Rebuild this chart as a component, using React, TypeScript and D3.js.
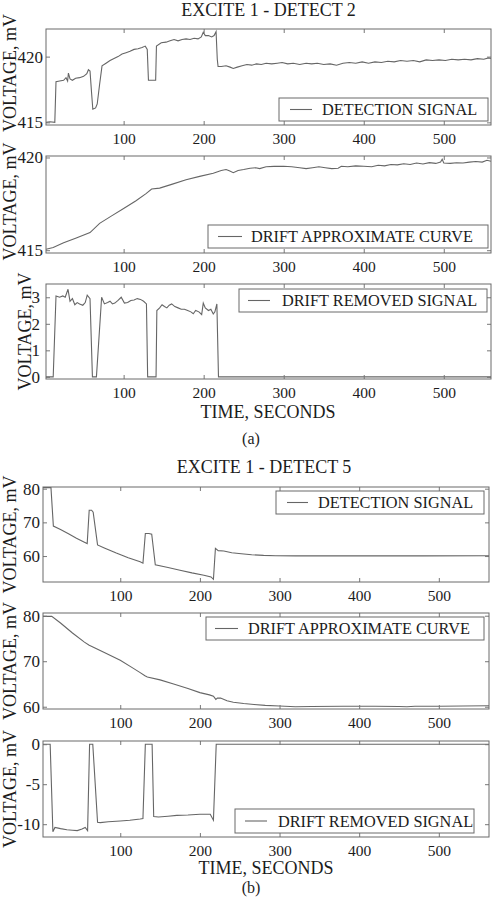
import { useRef, useEffect } from 'react'
import * as d3 from 'd3'

type Pt = [number, number]

// excite 1 - detect 2 (time s, mV)
const detect2: Pt[] = [
  [3, 415.0], [8, 415.05], [14, 415.0], [15.5, 418.1], [20, 418.15], [25, 418.2], [28, 418.4], [30, 418.15],
  [31, 418.75], [33, 418.3], [36, 418.2], [40, 418.35], [45, 418.4], [50, 418.5], [54, 418.7], [56, 419.0],
  [58, 418.9], [60, 417.2], [61.5, 416.0], [65, 416.1], [67, 416.4], [70, 417.9], [73, 419.3], [78, 419.5],
  [83, 419.7], [88, 419.85], [93, 420.0], [98, 420.2], [103, 420.3], [108, 420.4], [113, 420.55], [118, 420.6],
  [123, 420.7], [127, 420.8], [129.5, 420.55], [131, 418.2], [135, 418.2], [140, 418.2], [141, 420.8],
  [147, 421.05], [153, 421.1], [158, 421.2], [163, 421.3], [168, 421.2], [173, 421.3], [178, 421.35],
  [183, 421.3], [188, 421.4], [193, 421.35], [197, 421.5], [199.5, 421.85], [202, 421.6], [206, 421.6],
  [210, 421.5], [213, 421.6], [215.5, 421.9], [217, 419.8], [218, 419.25], [222, 419.25], [228, 419.3],
  [233, 419.2], [237, 419.1], [242, 419.2], [248, 419.3], [254, 419.4], [260, 419.35], [266, 419.45],
  [272, 419.4], [278, 419.5], [285, 419.45], [292, 419.5], [298, 419.55], [305, 419.45], [312, 419.5],
  [320, 419.4], [328, 419.5], [335, 419.45], [342, 419.5], [350, 419.4], [358, 419.45], [366, 419.35],
  [374, 419.5], [382, 419.55], [390, 419.5], [398, 419.6], [406, 419.5], [414, 419.6], [422, 419.55],
  [430, 419.65], [438, 419.6], [446, 419.7], [454, 419.65], [462, 419.7], [470, 419.6], [478, 419.75],
  [486, 419.7], [494, 419.75], [502, 419.7], [510, 419.8], [518, 419.75], [526, 419.8], [534, 419.75],
  [542, 419.85], [550, 419.8], [556, 419.9], [559, 419.85],
]

const drift2: Pt[] = [
  [3, 415.05], [12, 415.15], [25, 415.4], [40, 415.65], [58, 415.95], [70, 416.45], [85, 416.85], [100, 417.25],
  [115, 417.65], [128, 418.05], [135, 418.3], [145, 418.35], [160, 418.55], [178, 418.8], [195, 418.98],
  [212, 419.15], [222, 419.3], [228, 419.35], [232, 419.28], [237, 419.18], [243, 419.3], [250, 419.35],
  [258, 419.42], [265, 419.45], [270, 419.4], [278, 419.5], [288, 419.52], [300, 419.53], [310, 419.5],
  [320, 419.45], [328, 419.4], [336, 419.45], [344, 419.5], [352, 419.45], [360, 419.4], [368, 419.42],
  [372, 419.53], [380, 419.5], [390, 419.55], [400, 419.53], [410, 419.5], [418, 419.58], [426, 419.55],
  [434, 419.62], [442, 419.6], [450, 419.66], [458, 419.62], [466, 419.7], [474, 419.65], [482, 419.72],
  [490, 419.68], [496, 419.75], [498, 419.9], [500, 419.7], [508, 419.68], [516, 419.72], [524, 419.7],
  [532, 419.75], [540, 419.78], [548, 419.75], [554, 419.85], [559, 419.8],
]

const removed2: Pt[] = [
  [3, 0], [12, 0], [15.5, 3.05], [20, 3.0], [24, 3.05], [27, 3.0], [30.5, 3.3], [33, 2.85], [36, 2.95],
  [39, 2.72], [42, 2.8], [45, 2.75], [49, 2.7], [52, 2.8], [54.5, 3.08], [58, 2.95], [61, 0], [66, 0],
  [72.5, 3.0], [76, 2.75], [80, 2.8], [83, 2.85], [86, 2.75], [89, 2.78], [93, 2.88], [97, 3.0], [101, 2.78],
  [105, 2.8], [109, 2.88], [113, 2.9], [117, 2.95], [121, 2.92], [125, 2.85], [128.5, 2.75], [130, 0],
  [140.5, 0], [141.5, 2.5], [145, 2.6], [148, 2.72], [151, 2.65], [154, 2.6], [157, 2.7], [160, 2.75],
  [164, 2.65], [168, 2.6], [172, 2.55], [176, 2.55], [180, 2.5], [184, 2.45], [187, 2.38], [190, 2.5],
  [194, 2.45], [197.5, 2.35], [199.5, 2.78], [202, 2.6], [206, 2.5], [209, 2.55], [212, 2.37], [214, 2.45],
  [216.5, 2.75], [218.5, 0], [559, 0],
]

// excite 1 - detect 5
const detect5: Pt[] = [
  [3, 80.3], [13, 80.3], [16, 68.9], [25, 67.9], [35, 66.6], [45, 65.3], [55, 64.1], [58.5, 63.7], [61, 73.6],
  [64, 73.6], [66, 73.0], [71.5, 63.3], [80, 62.4], [95, 60.9], [110, 59.5], [125, 58.3], [128.5, 57.9],
  [131.5, 66.7], [136, 66.7], [139.5, 66.5], [144, 57.4], [160, 56.6], [175, 55.8], [190, 55.0], [205, 54.3],
  [214, 53.8], [217, 53.1], [219.5, 62.3], [223, 61.6], [230, 61.5], [240, 61.0], [252, 60.7], [265, 60.4],
  [280, 60.2], [295, 60.1], [320, 60.05], [400, 60.05], [480, 60.05], [563, 60.1],
]

const drift5: Pt[] = [
  [3, 79.85], [14, 79.85], [25, 78.4], [40, 76.2], [55, 74.2], [61, 73.5], [65, 73.2], [80, 71.9], [100, 70.2],
  [115, 68.6], [125, 67.5], [131, 66.8], [134, 66.55], [150, 65.9], [167, 65.0], [185, 64.0], [200, 63.1],
  [212, 62.6], [217, 62.3], [220, 61.6], [222, 61.9], [226, 61.9], [234, 61.3], [242, 61.0], [255, 60.7],
  [268, 60.5], [282, 60.3], [300, 60.15], [320, 60.0], [340, 60.05], [380, 60.1], [420, 60.1], [450, 60.05],
  [460, 60.0], [470, 60.1], [500, 60.1], [530, 60.15], [563, 60.2],
]

const removed5: Pt[] = [
  [3, 0], [12, 0], [15.4, -10.95], [18, -10.4], [25, -10.55], [33, -10.7], [40, -10.75], [46, -10.8],
  [52, -10.6], [56, -10.4], [59, -10.8], [61.5, 0], [65.5, 0], [71.5, -9.75], [75, -9.8], [85, -9.7],
  [100, -9.6], [112, -9.5], [125, -9.35], [128.5, -9.3], [131.5, 0], [140, 0], [142, -9.05], [148, -9.1],
  [160, -9.0], [171, -8.9], [185, -8.85], [200, -8.75], [213, -8.75], [217, -9.5], [220.5, 0], [563, 0],
]

const xTicks = [100, 200, 300, 400, 500]
const yTicksA = [415, 420]
const yTicksA3 = [0, 1, 2, 3]
const yTicksB = [60, 70, 80]
const yTicksB3 = [-10, -5, 0]

const titles = ['EXCITE 1 - DETECT 2', 'EXCITE 1 - DETECT 5']
const legendNames = ['DETECTION SIGNAL', 'DRIFT APPROXIMATE CURVE', 'DRIFT REMOVED SIGNAL']

const FONT = 'Liberation Serif, Times New Roman, serif'
const INK = '#1c1c1c'
const LINE = '#666'

const panels = [
  { data: detect2, name: legendNames[0], xDom: [3, 559], yDom: [414.8, 422.1], yTicks: yTicksA, l: 46, r: 491, t: 29, b: 125, labelX: 16, labelShift: -4, pad: 3, leg: { x: 279, y: 98, w: 209, h: 23, l1: 290, l2: 312, tx: 322 } },
  { data: drift2, name: legendNames[1], xDom: [3, 559], yDom: [414.85, 420.08], yTicks: yTicksA, l: 46, r: 491, t: 156, b: 253, labelX: 16, labelShift: -3, pad: 3, leg: { x: 208, y: 225, w: 280, h: 23, l1: 218, l2: 242, tx: 251 } },
  { data: removed2, name: legendNames[2], xDom: [3, 559], yDom: [-0.08, 3.5], yTicks: yTicksA3, l: 46, r: 491, t: 284, b: 379, labelX: 31, labelShift: 0, pad: 6, leg: { x: 239, y: 289, w: 248, h: 23, l1: 248, l2: 270, tx: 282 } },
  { data: detect5, name: legendNames[0], xDom: [3, 563], yDom: [52.3, 80.5], yTicks: yTicksB, l: 43, r: 489, t: 487, b: 582, labelX: 16, labelShift: 0, pad: 3, leg: { x: 276, y: 491, w: 208, h: 23, l1: 287, l2: 308, tx: 318 } },
  { data: drift5, name: legendNames[1], xDom: [3, 563], yDom: [59.5, 80.6], yTicks: yTicksB, l: 43, r: 489, t: 613, b: 709, labelX: 16, labelShift: 0, pad: 3, leg: { x: 206, y: 617, w: 278, h: 23, l1: 215, l2: 238, tx: 248 } },
  { data: removed5, name: legendNames[2], xDom: [3, 563], yDom: [-11.6, 0.4], yTicks: yTicksB3, l: 43, r: 489, t: 741, b: 837, labelX: 16, labelShift: 0, pad: 3, leg: { x: 235, y: 809, w: 239, h: 24, l1: 245, l2: 267, tx: 278 } },
]

export default function App() {
  const svgRef = useRef<SVGSVGElement>(null)

  useEffect(() => {
    if (!svgRef.current) return
    const svg = d3.select(svgRef.current)
    svg.selectAll('*').remove()

    const fmt = (d: any) => String(d)

    panels.forEach((p, i) => {
      const x = d3.scaleLinear().domain(p.xDom).range([p.l, p.r])
      const y = d3.scaleLinear().domain(p.yDom).range([p.b, p.t])
      const g = svg.append('g')

      const clipId = `clip-${i}`
      svg.append('clipPath').attr('id', clipId)
        .append('rect').attr('x', p.l).attr('y', p.t).attr('width', p.r - p.l).attr('height', p.b - p.t)

      // signal
      const line = d3.line<Pt>().x(d => x(d[0])).y(d => y(d[1]))
      g.append('path')
        .datum(p.data)
        .attr('d', line)
        .attr('fill', 'none')
        .attr('stroke', LINE)
        .attr('stroke-width', 1.1)
        .attr('clip-path', `url(#${clipId})`)

      // axes, ticks pointing inward on all four sides
      const styleAxis = (sel: any, size: number) => {
        sel.attr('font-family', FONT)
        sel.select('.domain').remove()
        sel.selectAll('.tick line').attr('stroke', '#777')
        sel.selectAll('text').attr('fill', INK).attr('font-family', FONT).attr('font-size', `${size}px`)
      }
      g.append('g').attr('transform', `translate(0,${p.b})`)
        .call(d3.axisBottom(x).tickValues(xTicks).tickSizeInner(-4).tickSizeOuter(0).tickPadding(8).tickFormat(fmt))
        .call((s: any) => styleAxis(s, 15.5))
      g.append('g').attr('transform', `translate(0,${p.t})`)
        .call(d3.axisTop(x).tickValues(xTicks).tickSizeInner(-4).tickSizeOuter(0).tickFormat(() => ''))
        .call((s: any) => styleAxis(s, 15.5))
      g.append('g').attr('transform', `translate(${p.l},0)`)
        .call(d3.axisLeft(y).tickValues(p.yTicks).tickSizeInner(-4).tickSizeOuter(0).tickPadding(p.pad).tickFormat(fmt))
        .call((s: any) => styleAxis(s, 17))
      g.append('g').attr('transform', `translate(${p.r},0)`)
        .call(d3.axisRight(y).tickValues(p.yTicks).tickSizeInner(-4).tickSizeOuter(0).tickFormat(() => ''))
        .call((s: any) => styleAxis(s, 17))

      g.append('rect')
        .attr('x', p.l).attr('y', p.t).attr('width', p.r - p.l).attr('height', p.b - p.t)
        .attr('fill', 'none').attr('stroke', '#6a6a6a').attr('stroke-width', 1)

      // legend
      const lg = p.leg
      g.append('rect')
        .attr('x', lg.x).attr('y', lg.y).attr('width', lg.w).attr('height', lg.h)
        .attr('fill', '#fff').attr('stroke', '#6a6a6a').attr('stroke-width', 1)
      g.append('line')
        .attr('x1', lg.l1).attr('x2', lg.l2).attr('y1', lg.y + lg.h / 2).attr('y2', lg.y + lg.h / 2)
        .attr('stroke', LINE).attr('stroke-width', 1.1)
      g.append('text')
        .attr('x', lg.tx).attr('y', lg.y + lg.h / 2).attr('dy', '0.36em')
        .attr('font-family', FONT).attr('font-size', '16.3px').attr('fill', INK)
        .text(p.name)

      // y label
      g.append('text')
        .attr('transform', `translate(${p.labelX},${(p.t + p.b) / 2 + p.labelShift}) rotate(-90)`)
        .attr('text-anchor', 'middle')
        .attr('font-family', FONT).attr('font-size', '18px').attr('fill', INK)
        .text('VOLTAGE, mV')
    })

    const label = (tx: string, cx: number, cy: number, size: number) =>
      svg.append('text')
        .attr('x', cx).attr('y', cy).attr('text-anchor', 'middle')
        .attr('font-family', FONT).attr('font-size', `${size}px`).attr('fill', INK)
        .text(tx)

    label(titles[0], 268.5, 16, 18)
    label('TIME, SECONDS', 268, 418, 18)
    label('(a)', 251, 444, 16)
    label(titles[1], 264, 472.5, 18)
    label('TIME, SECONDS', 266, 874, 18)
    label('(b)', 251, 893, 16)
  }, [])

  return (
    <svg
      ref={svgRef}
      width={498}
      height={898}
      style={{ position: 'absolute', left: 0, top: 0, background: '#fff' }}
      role="img"
      aria-label="Detection signal, drift approximate curve and drift removed signal for excite 1 - detect 2 and excite 1 - detect 5"
    />
  )
}
